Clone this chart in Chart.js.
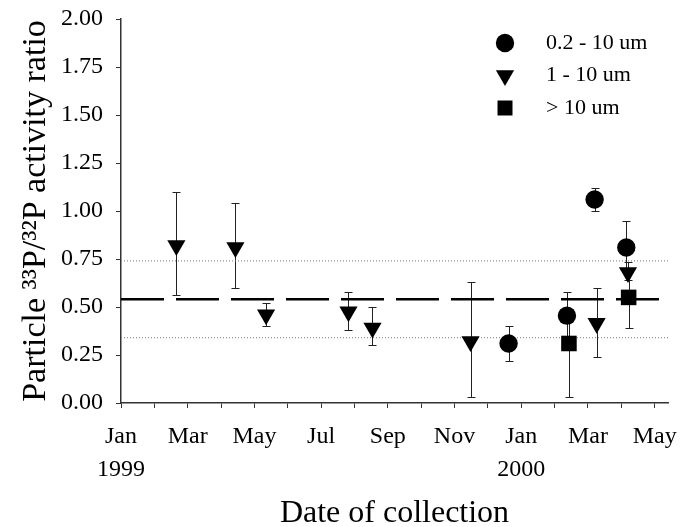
<!DOCTYPE html>
<html>
<head>
<meta charset="utf-8">
<script src="https://cdn.jsdelivr.net/npm/chart.js@4.4.1/dist/chart.umd.min.js"></script>
<style>
  html, body { margin: 0; padding: 0; background: #fff; }
  #wrap { width: 682px; height: 527px; position: relative; }
</style>
</head>
<body>
<div id="wrap"><canvas id="ratioChart"></canvas></div>
<script>
// x = months since Jan 1999 (0 = Jan 1999, 12 = Jan 2000)
const monthLabels = ['Jan', '', 'Mar', '', 'May', '', 'Jul', '', 'Sep', '', 'Nov', '', 'Jan', '', 'Mar', '', 'May'];
const yearLabels = ['1999', '', '', '', '', '', '', '', '', '', '', '', '2000', '', '', '', ''];

// 0.2 - 10 um
const smallDates = [11.62, 13.37, 14.2, 15.15];
const smallRatio = [0.31, 0.455, 1.06, 0.81];
const smallHigh = [0.40, 0.58, 1.12, 0.95];
const smallLow = [0.22, 0.33, 1.00, 0.70];

// 1 - 10 um
const midDates = [1.66, 3.43, 4.35, 6.82, 7.54, 10.48, 14.26, 15.2];
const midRatio = [0.82, 0.81, 0.46, 0.475, 0.39, 0.32, 0.415, 0.68];
const midHigh = [1.10, 1.04, 0.52, 0.58, 0.50, 0.63, 0.60, 0.735];
const midLow = [0.56, 0.60, 0.40, 0.38, 0.30, 0.03, 0.24, 0.64];

// > 10 um
const largeDates = [13.43, 15.22];
const largeRatio = [0.31, 0.55];
const largeHigh = [0.45, 0.70];
const largeLow = [0.03, 0.39];

// mean ratio and its bounds
const meanRatio = 0.54;
const boundRatios = [0.34, 0.74];
const xMin = 0;
const xMax = 16.4;

const toPoints = (xs, ys) => xs.map((v, i) => ({x: v, y: ys[i]}));
const hLine = (v) => [{x: xMin, y: v}, {x: xMax, y: v}];

// Barres d'erreur dessinées avec les échelles du graphique
const errorBars = {
    id: 'errorBars',
    beforeDatasetsDraw(chart) {
        const {ctx, scales: {x, y}} = chart;
        ctx.save();
        ctx.strokeStyle = '#222';
        ctx.lineWidth = 1;
        chart.data.datasets.forEach(ds => {
            if (!ds.errLow) return;
            ds.data.forEach((p, i) => {
                const px = Math.round(x.getPixelForValue(p.x)) + 0.5;
                const hi = Math.round(y.getPixelForValue(ds.errHigh[i])) + 0.5;
                const lo = Math.round(y.getPixelForValue(ds.errLow[i])) + 0.5;
                ctx.beginPath();
                ctx.moveTo(px, hi); ctx.lineTo(px, lo);
                ctx.moveTo(px - 4, hi); ctx.lineTo(px + 4, hi);
                ctx.moveTo(px - 4, lo); ctx.lineTo(px + 4, lo);
                ctx.stroke();
            });
        });
        ctx.restore();
    }
};

// Légende dans le coin en haut à droite
const cornerLegend = {
    id: 'cornerLegend',
    afterDraw(chart) {
        const {ctx, chartArea} = chart;
        const x0 = chartArea.right - 163;
        const y0 = chartArea.top + 24;
        ctx.save();
        ctx.font = '22px "Liberation Serif"';
        ctx.textBaseline = 'middle';
        ctx.fillStyle = '#000';
        chart.data.datasets.filter(ds => ds.errLow).forEach((ds, i) => {
            const cy = y0 + i * 32.5;
            ctx.beginPath();
            if (ds.pointStyle === 'circle') {
                ctx.arc(x0, cy, 9.2, 0, Math.PI * 2);
            } else if (ds.pointStyle === 'triangle') {
                ctx.moveTo(x0, cy + 10.5);
                ctx.lineTo(x0 - 9.1, cy - 5.25);
                ctx.lineTo(x0 + 9.1, cy - 5.25);
                ctx.closePath();
            } else {
                ctx.rect(x0 - 7.5, cy - 7.5, 15, 15);
            }
            ctx.fill();
            ctx.fillText(ds.label, x0 + 41, cy);
        });
        ctx.restore();
    }
};

Chart.defaults.font.family = '"Liberation Serif", "Times New Roman", serif';
Chart.defaults.color = '#000';

new Chart(document.getElementById('ratioChart'), {
    type: 'scatter',
    data: {
        datasets: [
            {
                label: '0.2 - 10 um',
                data: toPoints(smallDates, smallRatio),
                errHigh: smallHigh, errLow: smallLow,
                pointStyle: 'circle', pointRadius: 9.2,
                backgroundColor: '#000', borderWidth: 0
            },
            {
                label: '1 - 10 um',
                data: toPoints(midDates, midRatio),
                errHigh: midHigh, errLow: midLow,
                pointStyle: 'triangle', rotation: 180, pointRadius: 10.5,
                backgroundColor: '#000', borderWidth: 0
            },
            {
                label: '> 10 um',
                data: toPoints(largeDates, largeRatio),
                errHigh: largeHigh, errLow: largeLow,
                pointStyle: 'rect', pointRadius: 11,
                backgroundColor: '#000', borderWidth: 0
            },
            {
                type: 'line', label: 'mean',
                data: hLine(meanRatio),
                borderColor: '#000', borderWidth: 2.5, borderDash: [43, 12],
                pointRadius: 0
            },
            {
                type: 'line', label: 'low',
                data: hLine(boundRatios[0]),
                borderColor: '#777', borderWidth: 1, borderDash: [1, 2],
                pointRadius: 0
            },
            {
                type: 'line', label: 'high',
                data: hLine(boundRatios[1]),
                borderColor: '#777', borderWidth: 1, borderDash: [1, 2],
                pointRadius: 0
            }
        ]
    },
    options: {
        responsive: true,
        maintainAspectRatio: false,
        animation: false,
        layout: { padding: { top: 19, right: 14, left: 0, bottom: 0 } },
        plugins: {
            legend: { display: false },
            tooltip: { enabled: false }
        },
        scales: {
            x: {
                type: 'linear',
                min: xMin,
                max: xMax,
                afterFit(scale) {
                    scale.height = 124;
                    scale.paddingLeft = 0;
                    scale.paddingRight = 0;
                },
                border: { display: true, color: '#333', width: 1.5 },
                grid: { drawOnChartArea: false, drawTicks: true, tickLength: 5, color: '#333' },
                ticks: {
                    stepSize: 1,
                    includeBounds: false,
                    autoSkip: false,
                    maxRotation: 0,
                    padding: 12,
                    font: { size: 24, lineHeight: 1.375 },
                    callback(value) {
                        const i = Math.round(value);
                        const m = monthLabels[i] || '';
                        return yearLabels[i] ? [m, yearLabels[i]] : m;
                    }
                },
                title: {
                    display: true,
                    text: 'Date of collection',
                    font: { size: 32, lineHeight: 0.8 },
                    padding: { top: 0, bottom: 1 }
                }
            },
            y: {
                min: 0,
                max: 2,
                afterFit(scale) {
                    scale.width = 121;
                    scale.paddingTop = 0;
                    scale.paddingBottom = 0;
                },
                border: { display: true, color: '#333', width: 1.5 },
                grid: { drawOnChartArea: false, drawTicks: true, tickLength: 5, color: '#333' },
                ticks: {
                    stepSize: 0.25,
                    padding: 13,
                    font: { size: 24 },
                    callback: (value) => value.toFixed(2)
                },
                title: {
                    display: true,
                    text: 'Particle ³³P/³²P activity ratio',
                    font: { size: 34, lineHeight: 1 },
                    padding: { top: 19, bottom: 0 }
                }
            }
        }
    },
    plugins: [errorBars, cornerLegend]
});
</script>
</body>
</html>
